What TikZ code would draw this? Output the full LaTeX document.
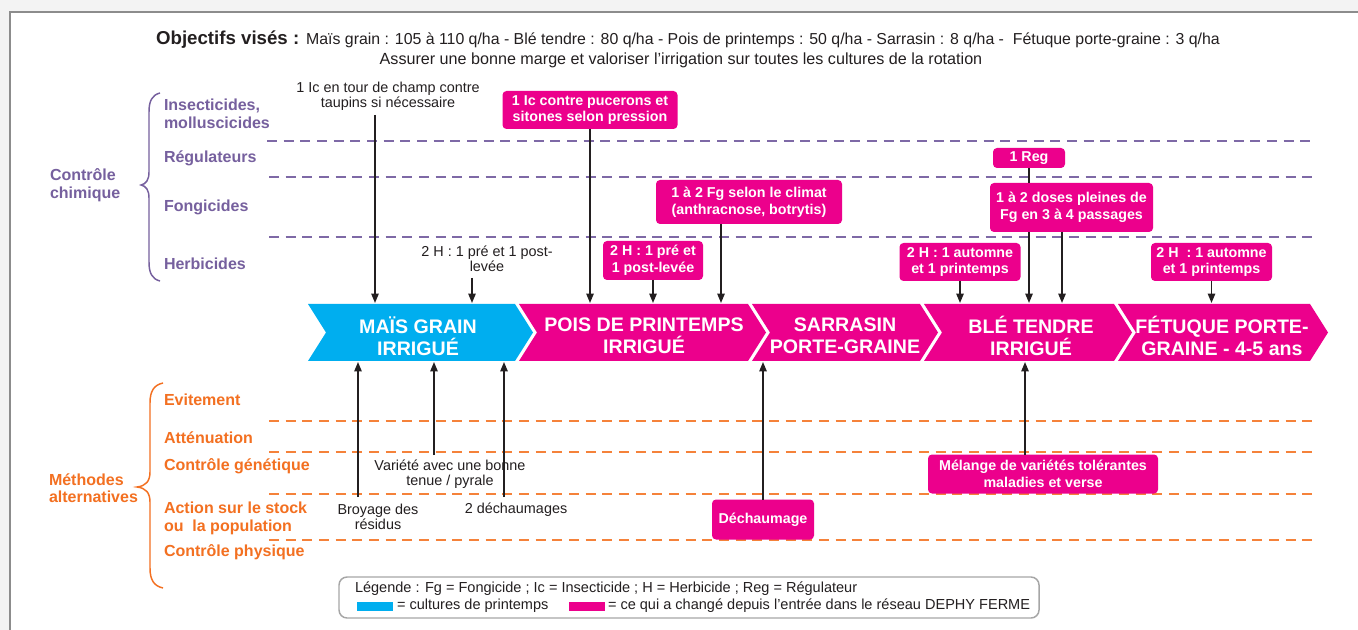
\documentclass[tikz,border=0pt]{standalone}
\usepackage{fontspec}
\setmainfont{Liberation Sans}
\usetikzlibrary{arrows.meta}
\definecolor{pk}{HTML}{EC008C}
\definecolor{bl}{HTML}{00AEEF}
\definecolor{purp}{HTML}{76609E}
\definecolor{purpd}{HTML}{7E69A6}
\definecolor{orng}{HTML}{F37021}
\definecolor{orngd}{HTML}{F5823A}
\definecolor{ink}{HTML}{231F20}
\definecolor{framec}{HTML}{8C8C8C}
\definecolor{outside}{HTML}{F3F3F3}
\definecolor{legc}{HTML}{A6A6A6}
\begin{document}
\begin{tikzpicture}[x=0.75pt,y=-0.75pt,
  every node/.style={inner sep=0pt, outer sep=0pt},
  arr/.style={draw=ink, line width=1.1pt, -{Triangle[length=7pt,width=5.5pt]}},
  lnk/.style={draw=ink, line width=1.1pt},
  ptxt/.style={text=ink, align=center, font=\fontsize{10.8}{11}\selectfont},
  pbox/.style 2 args={fill=pk, rounded corners=3pt, text=white, align=center,
    font=\bfseries\fontsize{10.7}{12.6}\selectfont,
    minimum width=#1*0.75pt, minimum height=#2*0.75pt},
  plab/.style={text=purp, anchor=west, align=left, font=\bfseries\fontsize{12}{13.5}\selectfont},
  olab/.style={text=orng, anchor=west, align=left, font=\bfseries\fontsize{12}{13}\selectfont},
  pdash/.style={draw=purpd, line width=1.5pt, dash pattern=on 7.5pt off 5pt},
  odash/.style={draw=orngd, line width=1.5pt, dash pattern=on 7.5pt off 5pt},
  chevtxt/.style={text=white, align=center, font=\bfseries\fontsize{14.7}{16.5}\selectfont},
  legtxt/.style={text=ink, anchor=west, font=\fontsize{10.9}{12}\selectfont},
]
\useasboundingbox (0,0) rectangle (1358,630);
% page frame
\fill[white] (0,0) rectangle (1358,630);
\fill[outside] (0,0) rectangle (1358,11);
\fill[outside] (0,0) rectangle (9,630);
\draw[framec, line width=1.6pt] (10,630) -- (10,12) -- (1358,12);

% title
\node[text=ink] (title) at (688,40) {\fontsize{14}{15}\selectfont\textbf{Objectifs visés :} \fontsize{11.9}{15}\selectfont Maïs grain : 105 à 110 q/ha - Blé tendre : 80 q/ha - Pois de printemps : 50 q/ha - Sarrasin : 8 q/ha -\ \ Fétuque porte-graine : 3 q/ha};
\node[text=ink, font=\fontsize{12.1}{15}\selectfont] (subtitle) at (681,60) {Assurer une bonne marge et valoriser l'irrigation sur toutes les cultures de la rotation};

% chemical control section
\node[plab] (cc) at (50,185) {Contrôle\\chimique};
\draw[purp, line width=1.1pt] (160,93) .. controls (152,95) and (149,101) .. (149,112) -- (149,172) .. controls (149,180) and (146,184) .. (141,185) .. controls (146,186) and (149,190) .. (149,198) -- (149,262) .. controls (149,273) and (152,279) .. (160,281);
\node[plab] (ins) at (164,114) {Insecticides,\\molluscicides};
\node[plab] (regl) at (164,158) {Régulateurs};
\node[plab] (fong) at (164,207) {Fongicides};
\node[plab] (herb) at (164,264) {Herbicides};
\draw[pdash] (267,141) -- (1312,141);
\draw[pdash] (269,177) -- (1312,177);
\draw[pdash] (269,237) -- (1312,237);

% alternative methods section
\node[olab] (ma) at (49,488) {Méthodes\\alternatives};
\draw[orng, line width=1.1pt] (163,383) .. controls (154,385) and (150,391) .. (150,403) -- (150,472) .. controls (150,481) and (146,486) .. (137,487) .. controls (146,488) and (150,493) .. (150,502) -- (150,568) .. controls (150,580) and (154,586) .. (163,588);
\node[olab] (evit) at (164,400) {Evitement};
\node[olab] (att) at (164,438) {Atténuation};
\node[olab] (gen) at (164,466) {Contrôle génétique};
\node[olab] (stock) at (164,518.5) {Action sur le stock\\ou\ \ la population};
\node[olab] (phys) at (164,552) {Contrôle physique};
\draw[odash] (269,421) -- (1312,421);
\draw[odash] (269,452) -- (1312,452);
\draw[odash] (269,494) -- (1312,494);
\draw[odash] (269,540) -- (1312,540);

% rotation chevrons
\fill[bl] (308,304) -- (515,304) -- (533,332.5) -- (515,361) -- (308,361) -- (326,332.5) -- cycle;
\fill[pk] (519,304) -- (748,304) -- (766,332.5) -- (748,361) -- (519,361) -- (537,332.5) -- cycle;
\fill[pk] (752,304) -- (920,304) -- (938,332.5) -- (920,361) -- (752,361) -- (770,332.5) -- cycle;
\fill[pk] (924,304) -- (1114,304) -- (1132,332.5) -- (1114,361) -- (924,361) -- (942,332.5) -- cycle;
\fill[pk] (1118,304) -- (1310,304) -- (1328,332.5) -- (1310,361) -- (1118,361) -- (1136,332.5) -- cycle;
\node[chevtxt] (c1) at (418,336) {MAÏS GRAIN\\IRRIGUÉ};
\node[chevtxt] (c2) at (644,336) {POIS DE PRINTEMPS\\IRRIGUÉ};
\node[chevtxt] (c3) at (845,336) {SARRASIN\\PORTE-GRAINE};
\node[chevtxt] (c4) at (1031,336) {BLÉ TENDRE\\IRRIGUÉ};
\node[chevtxt] (c5) at (1222,336) {FÉTUQUE PORTE-\\GRAINE - 4-5 ans};
\coordinate (ctop) at (0,303);
\coordinate (cbot) at (0,362);

% upper interventions
\node[ptxt] (taup) at (388,96) {1 Ic en tour de champ contre\\taupins si nécessaire};
\coordinate (t1) at (375,115);
\draw[arr] (t1) -- (t1 |- ctop);

\node[ptxt] (hmais) at (487,259) {2 H : 1 pré et 1 post-\\levée};
\coordinate (t2) at (472,278);
\draw[arr] (t2) -- (t2 |- ctop);

\node[pbox={175}{38}] (ic) at (590,110) {1 Ic contre pucerons et\\sitones selon pression};
\draw[arr] (ic.south) -- (ic.south |- ctop);

\node[pbox={100}{39}] (hpois) at (653,260.5) {2 H : 1 pré et\\1 post-levée};
\draw[arr] (hpois.south) -- (hpois.south |- ctop);

\node[pbox={186}{44}] (fg) at (749,202) {1 à 2 Fg selon le climat\\(anthracnose, botrytis)};
\coordinate (fgx) at (721,0);
\draw[arr] (fg.south -| fgx) -- (fgx |- ctop);

\node[pbox={72}{20}] (reg) at (1029,158) {1 Reg};
\node[pbox={163}{49}] (doses) at (1071.5,207.5) {1 à 2 doses pleines de\\Fg en 3 à 4 passages};
\draw[lnk] (reg.south) -- (reg.south |- doses.north);
\draw[arr] (doses.south -| reg.south) -- (reg.south |- ctop);
\coordinate (dx) at (1062,0);
\draw[arr] (doses.south -| dx) -- (dx |- ctop);

\node[pbox={121}{38}] (hble) at (960,262) {2 H : 1 automne\\et 1 printemps};
\draw[arr] (hble.south) -- (hble.south |- ctop);

\node[pbox={121}{38}] (hfet) at (1211.5,262) {2 H\ \ : 1 automne\\et 1 printemps};
\draw[arr] (hfet.south) -- (hfet.south |- ctop);

% lower interventions
\node[ptxt] (broy) at (378,517) {Broyage des\\résidus};
\coordinate (b1) at (358,497);
\draw[arr] (b1) -- (b1 |- cbot);

\node[ptxt] (var) at (450,474) {Variété avec une bonne\\tenue / pyrale};
\coordinate (b2) at (434,455);
\draw[arr] (b2) -- (b2 |- cbot);

\node[ptxt] (dech2) at (516,510) {2 déchaumages};
\coordinate (b3) at (504,497);
\draw[arr] (b3) -- (b3 |- cbot);

\node[pbox={102}{40}] (dech) at (763,519.5) {Déchaumage};
\draw[arr] (dech.north) -- (dech.north |- cbot);

\node[pbox={230}{39}] (mel) at (1043,474) {Mélange de variétés tolérantes\\maladies et verse};
\coordinate (mx) at (1025,0);
\draw[arr] (mel.north -| mx) -- (mx |- cbot);

% legend
\node[draw=legc, line width=1.1pt, rounded corners=6pt, minimum width=700*0.75pt, minimum height=41*0.75pt] (leg) at (689,597.5) {};
\node[legtxt] (leg1) at (355,589) {Légende : Fg = Fongicide ; Ic = Insecticide ; H = Herbicide ; Reg = Régulateur};
\node[fill=bl, minimum width=36*0.75pt, minimum height=9*0.75pt] (kbl) at (375,606.5) {};
\node[legtxt] (leg2) at (397,606) {= cultures de printemps};
\node[fill=pk, minimum width=36*0.75pt, minimum height=9*0.75pt] (kpk) at (587,606.5) {};
\node[legtxt] (leg3) at (608,606) {= ce qui a changé depuis l’entrée dans le réseau DEPHY FERME};
\end{tikzpicture}
\end{document}
